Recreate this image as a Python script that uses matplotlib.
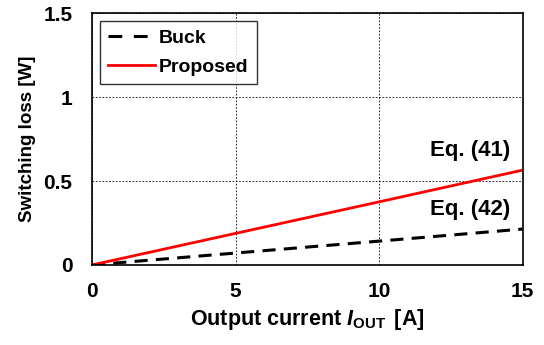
import matplotlib
matplotlib.use("Agg")
import matplotlib.pyplot as plt
from matplotlib.lines import Line2D

# Switching loss vs output current
i_out = [0, 5, 10, 15]
loss_buck = [0, 0.071, 0.142, 0.214]
loss_proposed = [0, 0.188, 0.376, 0.565]

xticks = [0, 5, 10, 15]
yticks = [0, 0.5, 1, 1.5]
ytick_labels = ["0", "0.5", "1", "1.5"]

plt.rcParams["font.family"] = ["Liberation Sans", "DejaVu Sans"]
plt.rcParams["font.weight"] = "bold"
plt.rcParams["mathtext.fontset"] = "custom"
plt.rcParams["mathtext.it"] = "Liberation Sans:italic:bold"
plt.rcParams["mathtext.rm"] = "Liberation Sans:bold"

fig = plt.figure(figsize=(5.44, 3.45), dpi=100)
ax = fig.add_axes([0.169, 0.232, 0.792, 0.730])

ax.plot(i_out, loss_buck, color="black", lw=2.2, ls=(0, (4.3, 2.7)))
ax.plot(i_out, loss_proposed, color="#ff0000", lw=2.0)

ax.set_xlim(0, 15)
ax.set_ylim(0, 1.5)
ax.set_xticks(xticks)
ax.set_yticks(yticks)
ax.set_yticklabels(ytick_labels)
ax.tick_params(axis="x", length=0, labelsize=15, pad=12)
ax.tick_params(axis="y", length=0, labelsize=15, pad=14)
for lbl in ax.get_xticklabels() + ax.get_yticklabels():
    lbl.set_fontweight("bold")

ax.grid(True, color="black", lw=0.6, ls=(0, (2, 2)))
for s in ax.spines.values():
    s.set_linewidth(1.2)

ax.set_xlabel(r"Output current $I_{\mathrm{OUT}}\,$ [A]", fontsize=15.5, fontweight="bold")
ax.set_ylabel("Switching loss [W]", fontsize=13.5, fontweight="bold")
ax.xaxis.set_label_coords(0.5, -0.165)
ax.yaxis.set_label_coords(-0.13, 0.5)

ax.text(14.55, 0.65, "Eq. (41)", ha="right", va="baseline", fontsize=16, fontweight="bold")
ax.text(14.55, 0.30, "Eq. (42)", ha="right", va="baseline", fontsize=16, fontweight="bold")

# legend keys: two-dash key for the buck curve
handles = [
    Line2D([], [], color="black", lw=2.2, ls=(0, (4.5, 3.8))),
    Line2D([], [], color="#ff0000", lw=2.0),
]
leg = ax.legend(handles, ["Buck", "Proposed"], loc="upper left", fontsize=14,
                frameon=True, fancybox=False, edgecolor="black",
                handlelength=2.4, borderpad=0.45, labelspacing=0.55,
                handletextpad=0.2, borderaxespad=0.4)
leg.get_frame().set_linewidth(1.0)
for t in leg.get_texts():
    t.set_fontweight("bold")

fig.savefig("out.png", dpi=100)
